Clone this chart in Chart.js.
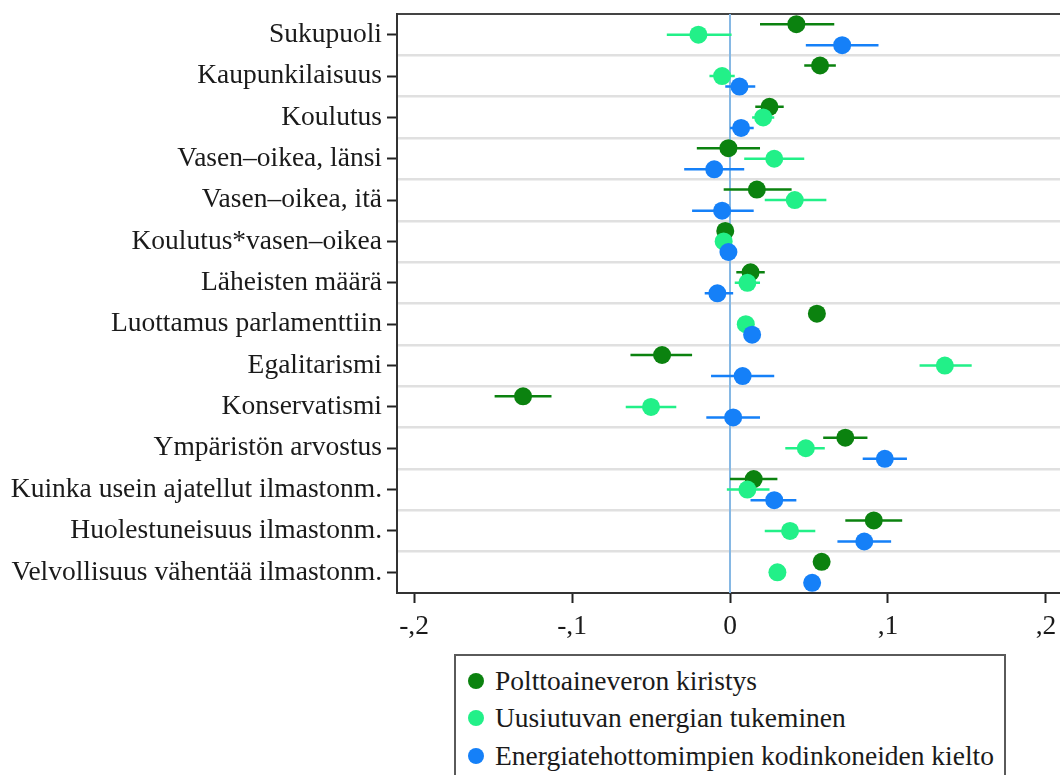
<!DOCTYPE html>
<html>
<head>
<meta charset="utf-8">
<script src="https://cdn.jsdelivr.net/npm/chart.js@4.4.1/dist/chart.umd.min.js"></script>
<style>
    body { margin: 0; background: #fff; width: 1060px; height: 775px; overflow: hidden; position: relative; }
    #coefChart { display: block; }
    #legend {
        position: absolute; left: 454px; top: 654px; width: 548px; height: 130px;
        border: 2px solid #5a5a5a; padding-top: 6px; box-sizing: content-box;
        font-family: "Liberation Serif", "DejaVu Serif", serif; font-size: 27.5px; color: #1a1a1a;
    }
    .legend-item { display: flex; align-items: center; height: 37.5px; padding-left: 12px; white-space: nowrap; }
    .legend-dot { width: 16px; height: 16px; border-radius: 50%; margin-right: 11px; flex: none; }
</style>
</head>
<body>
<canvas id="coefChart" width="1060" height="650"></canvas>
<div id="legend"></div>

<script>
// Categories (top to bottom)
const categories = [
    'Sukupuoli',
    'Kaupunkilaisuus',
    'Koulutus',
    'Vasen–oikea, länsi',
    'Vasen–oikea, itä',
    'Koulutus*vasen–oikea',
    'Läheisten määrä',
    'Luottamus parlamenttiin',
    'Egalitarismi',
    'Konservatismi',
    'Ympäristön arvostus',
    'Kuinka usein ajatellut ilmastonm.',
    'Huolestuneisuus ilmastonm.',
    'Velvollisuus vähentää ilmastonm.'
];

const seriesNames = [
    'Polttoaineveron kiristys',
    'Uusiutuvan energian tukeminen',
    'Energiatehottomimpien kodinkoneiden kielto'
];

// Coefficients and confidence intervals
const fuelTax   = [0.042, 0.057, 0.025, -0.001, 0.017, -0.003, 0.013, 0.055, -0.043, -0.131, 0.073, 0.015, 0.091, 0.058];
const fuelTaxLo = [0.019, 0.047, 0.016, -0.021, -0.004, -0.004, 0.004, 0.053, -0.063, -0.149, 0.059, 0.000, 0.073, 0.056];
const fuelTaxHi = [0.066, 0.067, 0.034, 0.019, 0.039, -0.002, 0.022, 0.057, -0.024, -0.113, 0.087, 0.030, 0.109, 0.060];

const renewable   = [-0.020, -0.005, 0.021, 0.028, 0.041, -0.004, 0.011, 0.010, 0.136, -0.050, 0.048, 0.011, 0.038, 0.030];
const renewableLo = [-0.040, -0.013, 0.014, 0.009, 0.022, -0.005, 0.003, 0.008, 0.120, -0.066, 0.035, -0.002, 0.022, 0.028];
const renewableHi = [0.001, 0.003, 0.028, 0.047, 0.061, -0.003, 0.019, 0.012, 0.153, -0.034, 0.060, 0.025, 0.054, 0.032];

const applianceBan   = [0.071, 0.006, 0.007, -0.010, -0.005, -0.001, -0.008, 0.014, 0.008, 0.002, 0.098, 0.028, 0.085, 0.052];
const applianceBanLo = [0.048, -0.003, 0.000, -0.029, -0.024, -0.002, -0.016, 0.012, -0.012, -0.015, 0.084, 0.013, 0.068, 0.050];
const applianceBanHi = [0.094, 0.016, 0.015, 0.009, 0.015, 0.000, 0.002, 0.016, 0.028, 0.019, 0.112, 0.042, 0.102, 0.054];

// X axis ticks
const xTicks = [-0.2, -0.1, 0, 0.1, 0.2];
const xTickLabels = ['-,2', '-,1', '0', ',1', ',2'];

const colors = ['#0b820f', '#22f088', '#1580f8'];
const X_MIN = -0.2108, X_MAX = 0.2089;
const DODGE = 0.255;
const FONT = '"Liberation Serif", "DejaVu Serif", serif';

// Scales should not push the plot area around
function noPadding(scale) {
    scale.paddingTop = 0;
    scale.paddingBottom = 0;
    scale.paddingLeft = 0;
    scale.paddingRight = 0;
}

// Build point + error bar datasets for one series
function makeSeries(idx, coef, lo, hi) {
    const offset = (idx - 1) * DODGE;
    const points = coef.map((v, i) => ({ x: v, y: i + 0.5 + offset }));
    const bars = [];
    lo.forEach((v, i) => {
        const y = i + 0.5 + offset;
        bars.push({ x: v, y: y }, { x: hi[i], y: y }, { x: null, y: null });
    });
    return [
        {
            type: 'line',
            data: bars,
            borderColor: colors[idx],
            borderWidth: 2.5,
            pointRadius: 0,
            spanGaps: false,
            order: 6 - idx * 2,
            inLegend: false
        },
        {
            type: 'scatter',
            label: seriesNames[idx],
            data: points,
            backgroundColor: colors[idx],
            borderWidth: 0,
            pointRadius: 9,
            pointHoverRadius: 9,
            order: 5 - idx * 2,
            inLegend: true
        }
    ];
}

const datasets = [
    {
        type: 'line',
        data: [{ x: 0, y: 0 }, { x: 0, y: categories.length }],
        borderColor: '#86b8e4',
        borderWidth: 2,
        pointRadius: 0,
        order: 10,
        inLegend: false
    },
    ...makeSeries(0, fuelTax, fuelTaxLo, fuelTaxHi),
    ...makeSeries(1, renewable, renewableLo, renewableHi),
    ...makeSeries(2, applianceBan, applianceBanLo, applianceBanHi)
];

// Initialize Chart
const ctx = document.getElementById('coefChart').getContext('2d');
const chart = new Chart(ctx, {
    data: { datasets: datasets },
    options: {
        responsive: false,
        animation: false,
        layout: { padding: 0, autoPadding: false },
        plugins: { legend: { display: false }, tooltip: { enabled: false } },
        scales: {
            x: {
                type: 'linear',
                position: 'bottom',
                min: X_MIN,
                max: X_MAX,
                afterBuildTicks: (scale) => { scale.ticks = xTicks.map(v => ({ value: v })); },
                afterFit: (scale) => { scale.height = 57; noPadding(scale); },
                ticks: {
                    callback: (value, index) => xTickLabels[index],
                    font: { family: FONT, size: 27.5 },
                    color: '#1a1a1a',
                    padding: 7,
                    maxRotation: 0
                },
                grid: { drawOnChartArea: false, tickLength: 10, tickWidth: 2, tickColor: '#222' },
                border: { display: true, color: '#333', width: 2 }
            },
            xTop: {
                type: 'linear',
                position: 'top',
                min: X_MIN,
                max: X_MAX,
                afterFit: (scale) => { scale.height = 14; noPadding(scale); },
                ticks: { display: false },
                grid: { drawOnChartArea: false, drawTicks: false },
                border: { display: true, color: '#444', width: 2 }
            },
            y: {
                type: 'linear',
                position: 'right',
                reverse: true,
                min: 0,
                max: categories.length,
                afterBuildTicks: (scale) => {
                    scale.ticks = categories.slice(1).map((c, i) => ({ value: i + 1 }));
                },
                afterFit: (scale) => { scale.width = 0; noPadding(scale); },
                ticks: { display: false },
                grid: { color: '#e0e0e0', lineWidth: 2.5, drawTicks: false },
                border: { display: false }
            },
            yLabels: {
                type: 'category',
                position: 'left',
                labels: categories,
                offset: true,
                afterFit: (scale) => { scale.width = 397; noPadding(scale); },
                ticks: {
                    autoSkip: false,
                    font: { family: FONT, size: 27.5 },
                    color: '#1a1a1a',
                    padding: 5
                },
                grid: { drawOnChartArea: false, tickLength: 10, tickWidth: 2, tickColor: '#222' },
                border: { display: true, color: '#333', width: 2 }
            }
        }
    }
});

// HTML legend from the point datasets
const legendEl = document.getElementById('legend');
chart.data.datasets.filter(ds => ds.inLegend).forEach(ds => {
    const item = document.createElement('div');
    item.className = 'legend-item';
    const dot = document.createElement('span');
    dot.className = 'legend-dot';
    dot.style.background = ds.backgroundColor;
    const text = document.createElement('span');
    text.textContent = ds.label;
    item.appendChild(dot);
    item.appendChild(text);
    legendEl.appendChild(item);
});
</script>
</body>
</html>
